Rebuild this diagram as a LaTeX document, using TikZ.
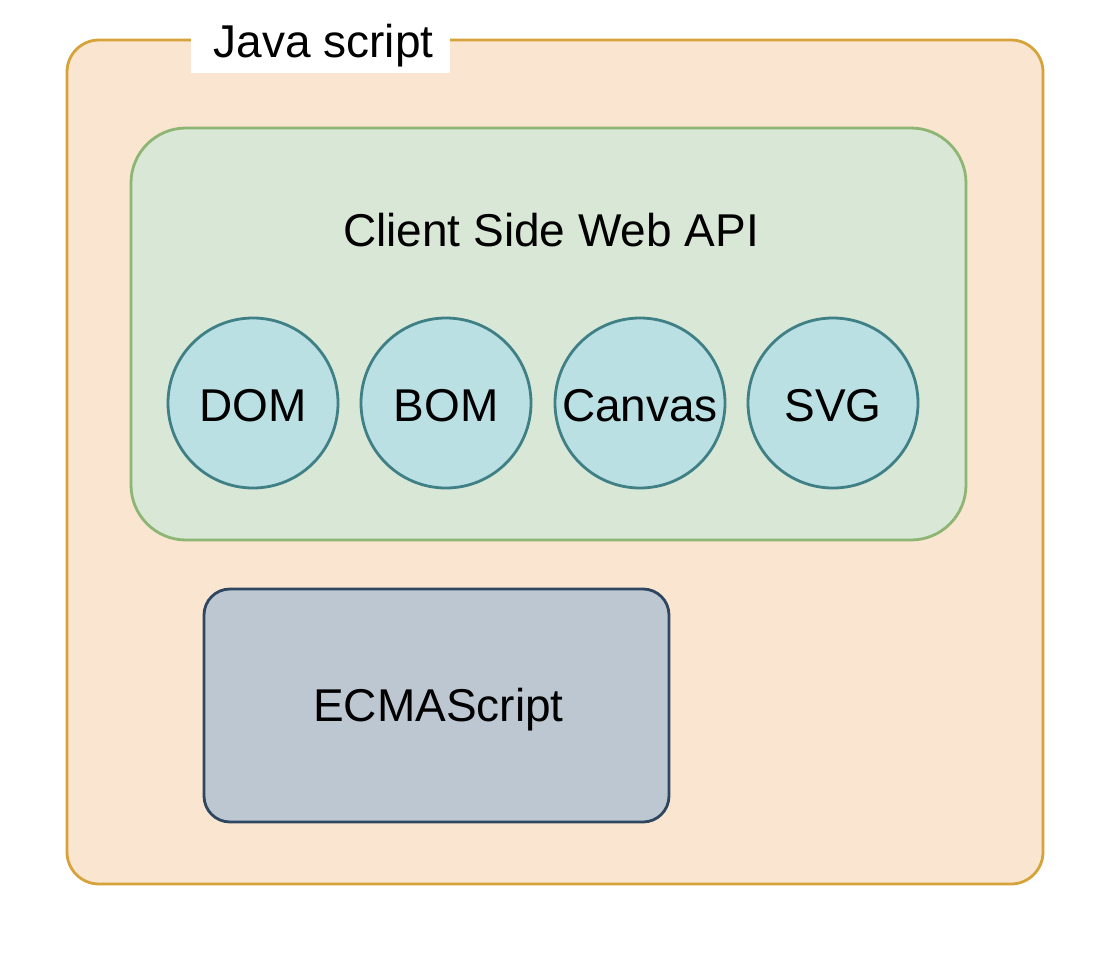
\documentclass[tikz,border=0pt]{standalone}
\usepackage{fontspec}
\setmainfont{Liberation Sans}
\definecolor{outerfill}{HTML}{FAE6D0}
\definecolor{outerdraw}{HTML}{D6A33A}
\definecolor{greenfill}{HTML}{D9E7D6}
\definecolor{greendraw}{HTML}{8DB573}
\definecolor{circfill}{HTML}{BBE0E3}
\definecolor{circdraw}{HTML}{3F7F86}
\definecolor{ecmafill}{HTML}{BDC7D1}
\definecolor{ecmadraw}{HTML}{2F4660}
\begin{document}
\begin{tikzpicture}[x=1pt,y=-1pt,
  txt/.style={font=\fontsize{46}{55}\selectfont, text=black, inner sep=0pt},
  api/.style={circle, draw=circdraw, fill=circfill, line width=2.8pt, minimum size=170pt, inner sep=0pt, font=\fontsize{46}{55}\selectfont}
]
\useasboundingbox (0,0) rectangle (1096,964);
\fill[white] (0,0) rectangle (1096,964);
% outer box
\draw[draw=outerdraw, fill=outerfill, line width=2.8pt, rounded corners=32pt] (67,40) rectangle (1043,884);
% label
\node[fill=white, minimum width=259pt, minimum height=60pt, inner sep=0pt] (jslabel) at (320.5,43) {};
\node[txt] (jstext) at (jslabel.center) [xshift=3pt, yshift=-3pt] {Java script};
% green box
\draw[draw=greendraw, fill=greenfill, line width=2.8pt, rounded corners=55pt] (131,128) rectangle (966,540);
\node[txt] (apititle) at (551,230) {Client Side Web API};
% circles
\node[api] (dom) at (253,403) {};
\node[api] (bom) at (446,403) {};
\node[api] (canvas) at (640,403) {};
\node[api] (svg) at (833,403) {};
\node[txt] at ([yshift=-3pt]dom.center) {DOM};
\node[txt] at ([yshift=-3pt]bom.center) {BOM};
\node[txt] at ([yshift=-3pt]canvas.center) {Canvas};
\node[txt] at ([yshift=-3pt]svg.center) {SVG};
% ECMAScript
\node[draw=ecmadraw, fill=ecmafill, line width=2.8pt, rounded corners=26pt, minimum width=465pt, minimum height=233pt, inner sep=0pt] (ecma) at (436.5,705.5) {};
\node[txt] at ([xshift=2pt, yshift=-4pt]ecma.center) {ECMAScript};
\end{tikzpicture}
\end{document}
